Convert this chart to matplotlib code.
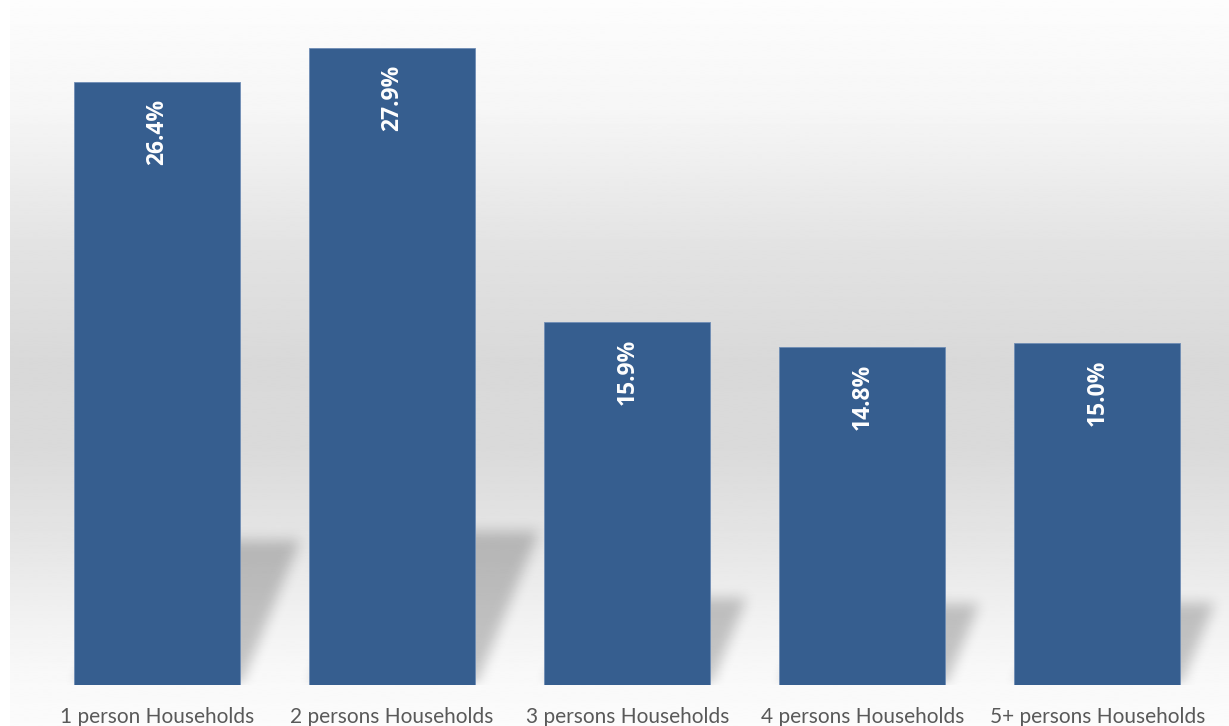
import numpy as np
import matplotlib
matplotlib.use('Agg')
import matplotlib.pyplot as plt

categories = ['1 person Households', '2 persons Households', '3 persons Households',
              '4 persons Households', '5+ persons Households']
shares = [26.4, 27.9, 15.9, 14.8, 15.0]

BAR_COLOR = '#365e8f'
W, H = 1229, 726

plt.rcParams['font.family'] = ['Lato', 'DejaVu Sans']

fig = plt.figure(figsize=(W / 100, H / 100), dpi=100)
fig.patch.set_facecolor('white')

# chart area gradient (light top, grey middle, light bottom)
bg = fig.add_axes([10 / W, 0, 1 - 10 / W, 1], zorder=0)
stops = [(0.0, 0.99), (0.15, 0.965), (0.35, 0.885), (0.50, 0.85),
         (0.62, 0.855), (0.75, 0.9), (0.85, 0.945), (0.93, 0.975), (1.0, 0.985)]
ys = np.linspace(0, 1, 400)
grad = np.interp(ys, [s[0] for s in stops], [s[1] for s in stops])
bg.imshow(grad[:, None], aspect='auto', cmap='gray', vmin=0, vmax=1,
          extent=[0, 1, 1, 0], interpolation='bilinear')
bg.set_xlim(0, 1)
bg.set_ylim(1, 0)
bg.axis('off')

ax = fig.add_axes([39.5 / W, 41 / H, (1215 - 39.5) / W, 685 / H], zorder=1)
ax.patch.set_alpha(0)
x = np.arange(len(categories))
width = 0.706

# soft skewed shadow at the foot of each bar
nx, ny = 1300, 700
gx = np.linspace(-0.5, 4.7, nx)
gy = np.linspace(0, 30, ny)
XX, YY = np.meshgrid(gx, gy)
mask = np.zeros_like(XX)
skew = 0.04
for xi, v in zip(x, shares):
    top = 0.24 * v
    shift = skew * YY
    inside = (YY <= top) & (XX >= xi - width / 2 + shift) & (XX <= xi + width / 2 + shift)
    mask = np.maximum(mask, inside.astype(float))


def box_blur(a, r, axis):
    k = np.ones(2 * r + 1) / (2 * r + 1)
    return np.apply_along_axis(lambda m: np.convolve(m, k, mode='same'), axis, a)


for _ in range(3):
    mask = box_blur(mask, 6, 1)
    mask = box_blur(mask, 6, 0)
shadow = np.zeros((ny, nx, 4))
shadow[..., 3] = mask * 0.21
ax.imshow(shadow, extent=[gx[0], gx[-1], gy[0], gy[-1]], origin='lower',
          aspect='auto', zorder=1, interpolation='bilinear', clip_on=False)
ax.set_xlim(-0.5, len(categories) - 0.5)
ax.set_ylim(0, 30)

ax.bar(x, shares, width=width, color=BAR_COLOR, edgecolor='#6f8db5',
       linewidth=0.6, zorder=2)

for xi, v in zip(x, shares):
    ax.annotate(f'{v:.1f}%', xy=(xi, v), xytext=(0, -12), textcoords='offset points',
                rotation=90, ha='center', va='top', color='white',
                fontsize=16.5, fontweight='bold', family=['Open Sans', 'DejaVu Sans'],
                zorder=3)

ax.set_xticks(x)
ax.set_xticklabels(categories, fontsize=15, color='#595959')
ax.tick_params(axis='x', length=0, pad=16)
ax.set_yticks([])
for s in ax.spines.values():
    s.set_visible(False)

fig.savefig('out.png', dpi=100)
